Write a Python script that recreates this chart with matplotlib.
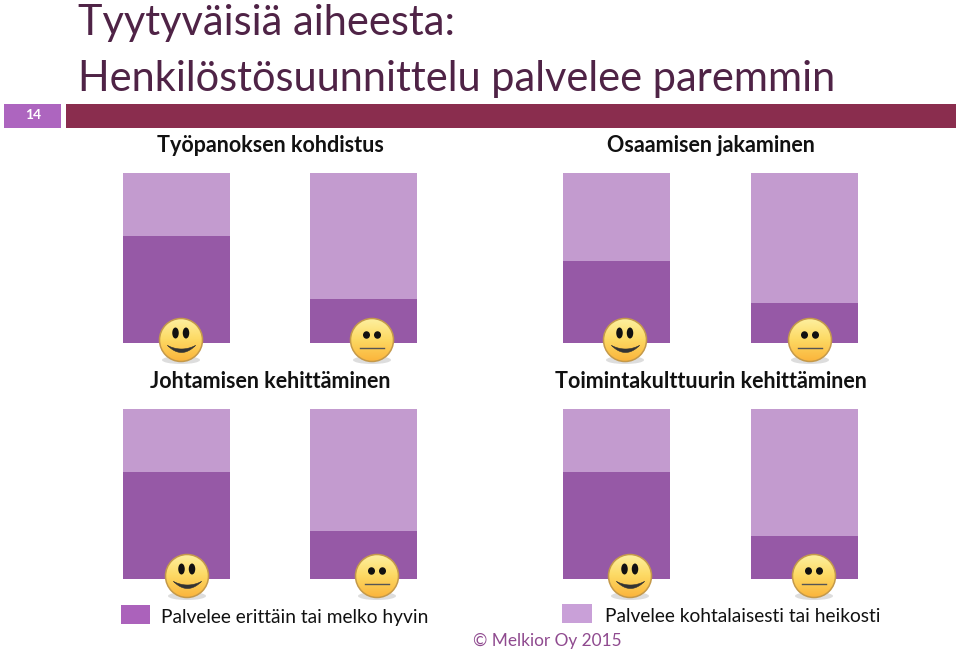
import numpy as np
import matplotlib
matplotlib.use('Agg')
import matplotlib.pyplot as plt
from matplotlib.patches import Circle, Ellipse, Rectangle

# share of answers, percent (dark = very/fairly well, light = moderately/poorly)
panelTitles = ['Työpanoksen kohdistus', 'Osaamisen jakaminen',
	'Johtamisen kehittäminen', 'Toimintakulttuurin kehittäminen']
goodShare = [[63, 26], [48, 23.5], [63, 28], [63, 25.5]]
faces = ['happy', 'neutral']
legendLabels = ['Palvelee erittäin tai melko hyvin', 'Palvelee kohtalaisesti tai heikosti']
titleLines = ['Tyytyväisiä aiheesta:', 'Henkilöstösuunnittelu palvelee paremmin']

W, H = 959, 650
DARK = '#9659a6'
LIGHT = '#c39bcf'
plt.rcParams['font.family'] = ['Lato', 'DejaVu Sans']

fig = plt.figure(figsize=(W / 100, H / 100), dpi=100)

# pixel overlay for slide decoration, y runs downwards like the screenshot
bg = fig.add_axes([0, 0, 1, 1], zorder=0)
bg.set_xlim(0, W)
bg.set_ylim(H, 0)
bg.axis('off')

over = fig.add_axes([0, 0, 1, 1], zorder=5)
over.set_xlim(0, W)
over.set_ylim(H, 0)
over.axis('off')
over.patch.set_alpha(0)

def panel(left, right, top, bottom, vals):
	ax = fig.add_axes([left / W, 1 - bottom / H, (right - left) / W, (bottom - top) / H], zorder=2)
	x = np.arange(len(vals))
	vals = np.array(vals)
	ax.bar(x, vals, width=0.573, color=DARK)
	ax.bar(x, 100 - vals, width=0.573, bottom=vals, color=LIGHT)
	ax.set_xlim(-0.2865, 1.2865)
	ax.set_ylim(0, 100)
	ax.axis('off')
	return ax

def smiley(cx, cy, kind, r=21.5):
	over.add_patch(Ellipse((cx, cy + 20), 38, 8, fc='#b4b4b4', ec='none', alpha=0.45, zorder=1))
	grad = np.linspace(0, 1, 64).reshape(-1, 1)
	cmap = matplotlib.colors.LinearSegmentedColormap.from_list('f', ['#fdf0a0', '#fdd963', '#fbb53c'])
	im = over.imshow(grad, extent=(cx - r, cx + r, cy + r, cy - r), cmap=cmap, zorder=2, aspect='auto')
	clip = Circle((cx, cy), r, transform=over.transData)
	im.set_clip_path(clip)
	over.add_patch(Circle((cx, cy), r, fc='none', ec='#c4994a', lw=1.1, zorder=3))
	if kind == 'happy':
		for dx in (-5.5, 5):
			over.add_patch(Ellipse((cx + dx, cy - 7), 6.5, 11, fc='#111111', ec='none', zorder=4))
		t = np.linspace(-1, 1, 40)
		over.fill_between(cx + 14 * t, cy + 5 + 3.5 * (1 - t ** 2), cy + 5 + 7 * (1 - t ** 2),
			color='#333333', lw=0.4, zorder=4)
	else:
		for dx in (-5.5, 5.5):
			over.add_patch(Ellipse((cx + dx, cy - 5), 7, 7.5, fc='#111111', ec='none', zorder=4))
		over.plot([cx - 12, cx + 12], [cy + 8, cy + 8], color='#555555', lw=1, zorder=4)

panelBoxes = [(123, 417, 173, 343), (563, 858, 173, 343), (123, 417, 409, 579), (563, 858, 409, 579)]
facePos = [[(181, 340), (372, 340)], [(625, 340), (810, 340)], [(187, 576), (377, 576)], [(630, 576), (814, 576)]]
titlePos = [(270, 145), (711, 145), (270, 381), (711, 381)]

for box, vals, pos, t, name in zip(panelBoxes, goodShare, facePos, titlePos, panelTitles):
	panel(*box, vals)
	for (cx, cy), kind in zip(pos, faces):
		smiley(cx, cy, kind)
	bg.text(t[0], t[1], name, fontsize=15.5, fontweight='bold', color='#111111', ha='center', va='center')

over.set_xlim(0, W)
over.set_ylim(H, 0)

# slide header
bg.text(78, 23, titleLines[0], fontsize=29.9, color='#4f2346', va='center')
bg.text(78, 79, titleLines[1], fontsize=29.9, color='#4f2346', va='center')
bg.add_patch(Rectangle((4, 104), 57, 24, fc='#ad65bf', ec='none'))
bg.add_patch(Rectangle((66, 104), 890, 24, fc='#8a2d4e', ec='none'))
bg.text(33, 115, '14', fontsize=10, fontweight='bold', color='white', ha='center', va='center')

# legend
bg.add_patch(Rectangle((121, 605), 29, 19, fc='#ab62bb', ec='none'))
bg.add_patch(Rectangle((562, 604), 30, 19, fc='#c9a0d8', ec='none'))
bg.text(161, 617, legendLabels[0], fontsize=13.8, color='#111111', va='center')
bg.text(605, 616, legendLabels[1], fontsize=13.8, color='#111111', va='center')
bg.text(473, 641, '© Melkior Oy 2015', fontsize=12.4, color='#8f4a8f', va='center')

fig.savefig('out.png', dpi=100)
